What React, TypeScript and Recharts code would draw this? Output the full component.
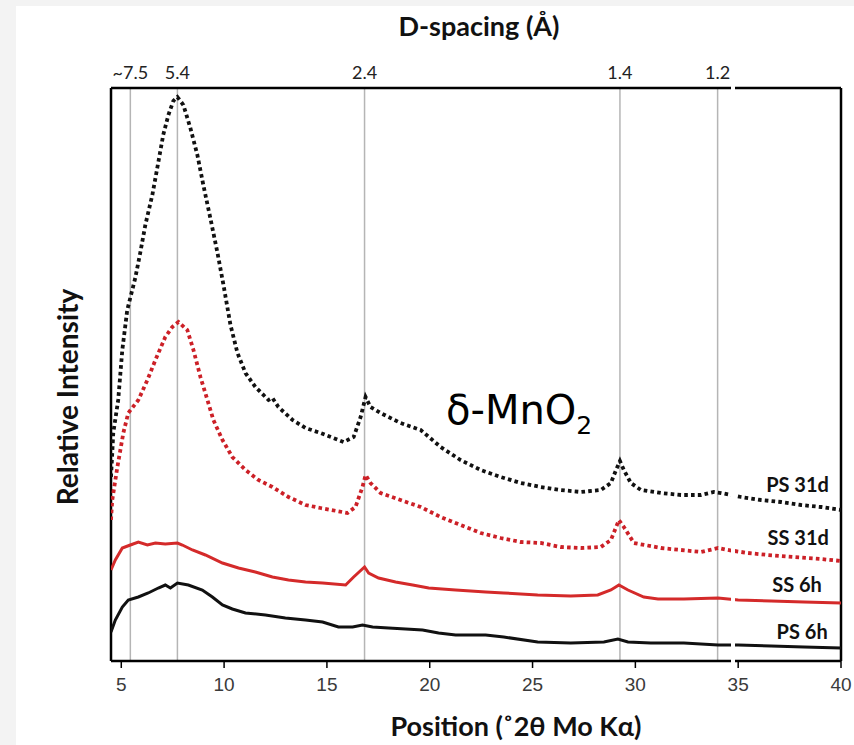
import { LineChart, Line, XAxis, YAxis, ReferenceLine, ReferenceDot } from 'recharts'

// 2θ (Mo Kα) vs relative intensity (arbitrary units)
const ps31d: [number, number][] = [
  [4.5, 184], [4.61, 228], [4.85, 261], [5.05, 311], [5.29, 351], [5.68, 383], [5.93, 409], [6.17, 436],
  [6.51, 466], [6.75, 493], [7.04, 526], [7.29, 546], [7.53, 560], [7.73, 564], [8.02, 556], [8.36, 533],
  [8.7, 506], [8.99, 476], [9.33, 443], [9.67, 409], [9.97, 376], [10.31, 336], [10.65, 308], [11.04, 288],
  [11.52, 274], [12.16, 261], [12.35, 263], [12.64, 254], [13.33, 241], [13.96, 233], [14.69, 228], [15.81, 219],
  [16.3, 224], [16.64, 244], [16.88, 264], [17.12, 254], [17.61, 248], [18.58, 238], [19.56, 231], [20.53, 214],
  [21.5, 201], [22.48, 191], [23.45, 184], [24.43, 178], [25.4, 174], [26.37, 171], [27.35, 169], [28.32, 171],
  [28.81, 178], [29.06, 191], [29.25, 200], [29.44, 191], [29.78, 178], [30.27, 171], [31.24, 168], [32.22, 166],
  [33.19, 166], [33.82, 169], [34.17, 168], [35.14, 164], [36.11, 161], [37.08, 159], [38.06, 156], [39.03, 154],
  [40, 151],
]

const ss31d: [number, number][] = [
  [4.5, 141], [4.56, 161], [4.81, 194], [5.1, 228], [5.34, 248], [5.83, 261], [6.27, 281], [6.66, 301],
  [7.14, 324], [7.48, 334], [7.78, 339], [8.21, 331], [8.51, 311], [8.85, 284], [9.19, 261], [9.48, 241],
  [9.92, 221], [10.4, 204], [11.04, 191], [11.67, 181], [12.35, 174], [13.13, 164], [13.96, 156], [14.69, 153],
  [16.0, 148], [16.39, 154], [16.73, 174], [16.88, 186], [17.12, 178], [17.61, 168], [18.58, 161], [19.56, 154],
  [20.53, 144], [21.5, 136], [22.48, 128], [23.45, 123], [24.43, 119], [25.4, 118], [26.37, 114], [27.35, 113],
  [28.32, 114], [28.81, 121], [29.2, 141], [29.44, 134], [29.93, 118], [31.24, 113], [32.22, 111], [33.19, 109],
  [34.02, 113], [34.5, 111], [35.48, 108], [36.45, 106], [37.72, 104], [39.03, 102], [40, 100],
]

const ss6h: [number, number][] = [
  [4.5, 91], [4.71, 101], [5.05, 113], [5.44, 116], [5.83, 119], [6.27, 116], [6.66, 118], [7.14, 117],
  [7.73, 118], [7.97, 116], [8.46, 111], [9.09, 106], [9.92, 98], [10.7, 93], [11.52, 89], [12.35, 84],
  [13.13, 81], [13.96, 79], [14.79, 78], [15.91, 76], [16.3, 84], [16.83, 94], [17.03, 88], [17.51, 83],
  [18.34, 79], [19.17, 76], [19.95, 73], [21.26, 71], [22.72, 69], [23.6, 68], [25.25, 66], [26.86, 65],
  [28.17, 66], [28.81, 71], [29.2, 76], [29.64, 71], [30.41, 64], [31.1, 62], [32.36, 62], [34.02, 63],
  [35.0, 61], [36.6, 60], [38.2, 59], [40, 58],
]

const ps6h: [number, number][] = [
  [4.5, 29], [4.71, 41], [5.05, 54], [5.34, 61], [5.83, 64], [6.31, 68], [6.8, 73], [7.14, 76],
  [7.39, 73], [7.73, 78], [8.26, 76], [8.94, 71], [9.43, 64], [9.92, 56], [10.4, 52], [11.04, 48],
  [12.01, 46], [12.98, 43], [13.96, 41], [14.79, 39], [15.56, 34], [16.25, 34], [16.73, 36], [17.22, 34],
  [18.0, 33], [18.83, 32], [19.65, 31], [20.43, 28], [21.26, 26], [22.72, 26], [23.6, 24], [25.25, 19],
  [26.86, 18], [28.47, 19], [29.15, 22], [29.64, 19], [30.75, 18], [32.36, 18], [34.02, 16], [35.0, 16],
  [36.6, 15], [38.2, 14], [40, 13],
]

const positionTicks = [5, 10, 15, 20, 25, 30, 35, 40]
// peak positions (°2θ) and their d-spacings (Å)
const peakTheta = [5.44, 7.73, 16.83, 29.25, 34.0]
const peakSpacing = ['~7.5', '5.4', '2.4', '1.4', '1.2']

const seriesLabels = [
  { name: 'PS 31d', x: 39.66, y: 176 },
  { name: 'SS 31d', x: 39.66, y: 123 },
  { name: 'SS 6h', x: 39.32, y: 76 },
  { name: 'PS 6h', x: 39.6, y: 29 },
]

const toRows = (pts: [number, number][]) => pts.map(([x, y]) => ({ x, y }))

const titleFont = 'Lato, "Open Sans", sans-serif'
const frame = { stroke: '#000', strokeWidth: 2.5 }

export default function App() {
  return (
    <div style={{ position: 'absolute', left: 0, top: 0, width: 854, height: 745, background: '#f3f3f3', overflow: 'hidden' }}>
      <div style={{ position: 'absolute', left: 16, top: 6, width: 838, height: 739, background: '#fff' }} />
      <div style={{ position: 'absolute', left: 0, top: 0 }}>
        <LineChart width={854} height={745} margin={{ top: 88, right: 13, bottom: 54, left: 111 }}>
          <XAxis
            dataKey="x"
            type="number"
            domain={[4.5, 40]}
            ticks={positionTicks}
            allowDataOverflow
            height={30}
            axisLine={frame}
            tickLine={{ stroke: '#000', strokeWidth: 1.5 }}
            tickSize={7}
            tickMargin={10}
            tick={{ fontSize: 19, fill: '#3a3a3a', fontFamily: '"Liberation Sans", Arial, sans-serif' }}
          />
          <YAxis hide type="number" domain={[0, 573]} />

          {peakTheta.map((t, i) => (
            <ReferenceLine
              key={t}
              x={t}
              stroke="#b5b5b5"
              strokeWidth={1.5}
              label={{ value: peakSpacing[i], position: 'top', offset: 9, fill: '#222', fontSize: 18, fontFamily: titleFont }}
            />
          ))}

          {/* plot frame */}
          <ReferenceLine y={573} {...frame} />
          <ReferenceLine x={4.5} {...frame} />
          <ReferenceLine x={40} {...frame} />

          <Line data={toRows(ps31d)} dataKey="y" type="linear" stroke="#111" strokeWidth={3.8} strokeDasharray="3.6 3.2" dot={false} isAnimationActive={false} />
          <Line data={toRows(ss31d)} dataKey="y" type="linear" stroke="#cc2027" strokeWidth={3.8} strokeDasharray="3.6 3.2" dot={false} isAnimationActive={false} />
          <Line data={toRows(ss6h)} dataKey="y" type="linear" stroke="#d42a2a" strokeWidth={3} dot={false} isAnimationActive={false} />
          <Line data={toRows(ps6h)} dataKey="y" type="linear" stroke="#111" strokeWidth={3} dot={false} isAnimationActive={false} />

          {seriesLabels.map(s => (
            <ReferenceDot
              key={s.name}
              x={s.x}
              y={s.y}
              r={0.1}
              fill="none"
              stroke="none"
              label={{ value: s.name, position: 'left', fill: '#111', fontSize: 20, fontWeight: 700, fontFamily: titleFont }}
            />
          ))}
        </LineChart>
      </div>

      {/* axis break near 35° */}
      <div style={{ position: 'absolute', left: 731, top: 84, width: 4, height: 582, background: '#fff' }} />

      <div style={{ position: 'absolute', left: 0, width: 958, top: 9, textAlign: 'center', fontFamily: titleFont, fontWeight: 700, fontSize: 27, color: '#111' }}>
        D-spacing (Å)
      </div>
      <div style={{ position: 'absolute', left: 0, width: 1032, top: 709, textAlign: 'center', fontFamily: titleFont, fontWeight: 700, fontSize: 27, color: '#111' }}>
        Position (˚2θ Mo Kα)
      </div>
      <div
        style={{
          position: 'absolute', left: 67, top: 397, transform: 'translate(-50%, -50%) rotate(-90deg)', whiteSpace: 'nowrap',
          fontFamily: titleFont, fontWeight: 700, fontSize: 28, color: '#111',
        }}
      >
        Relative Intensity
      </div>
      <div style={{ position: 'absolute', left: 446, top: 386, fontFamily: '"DejaVu Sans", Verdana, sans-serif', fontSize: 40, color: '#000', whiteSpace: 'nowrap', lineHeight: 1.2 }}>
        δ-MnO<span style={{ fontSize: 25, position: 'relative', top: 10 }}>2</span>
      </div>
    </div>
  )
}
